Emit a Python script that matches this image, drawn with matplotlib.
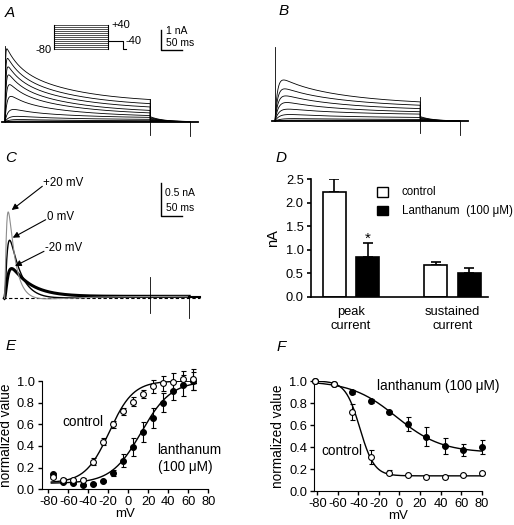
import numpy as np
import matplotlib
matplotlib.use("Agg")
import matplotlib.pyplot as plt
from matplotlib.patches import Rectangle
from matplotlib.ticker import FormatStrFormatter

plt.rcParams['font.family'] = ['Liberation Sans', 'DejaVu Sans']
plt.rcParams['axes.unicode_minus'] = False

W, H = 514, 525

# ---- A: control currents, one entry per voltage step (nA, ms)
a_peak = [3.89, 3.47, 3.08, 2.70, 2.23, 1.61, 0.83, 0.39, 0.17, 0.05]
a_steady = [0.92, 0.73, 0.58, 0.42, 0.32, 0.22, 0.175, 0.10, 0.04, 0.02]
a_rise = [1.0, 1.5, 2.0, 2.5, 3.5, 5.0, 8.0, 12.0, 16.0, 20.0]
a_tail = [0.25, 0.21, 0.17, 0.13, 0.10, 0.07, 0.05, 0.03, 0.015, 0.005]

# ---- B: currents in lanthanum
b_peak = [2.39, 1.90, 1.51, 1.13, 0.72, 0.41, 0.15, 0.055]
b_steady = [0.77, 0.645, 0.505, 0.377, 0.297, 0.148, 0.07, 0.027]
b_rise = [6.0, 7.0, 8.0, 9.0, 10.0, 12.0, 15.0, 20.0]
b_tail = [0.22, 0.18, 0.14, 0.11, 0.08, 0.05, 0.02, 0.01]

# ---- C: lanthanum-sensitive currents
c_labels = ['+20 mV', '0 mV', '-20 mV']
c_amp = [2.77, 1.64, 0.71]
c_rise = [4.0, 5.0, 6.0]
c_decay = [17.0, 28.0, 48.0]
c_under = [0.04, 0.04, 0.0]
c_late = [0.03, 0.03, 0.03]
c_color = ['#8c8c8c', 'black', 'black']
c_lw = [0.8, 1.0, 2.2]

# ---- D: bar chart
d_groups = ['peak\ncurrent', 'sustained\ncurrent']
d_ctrl = [2.22, 0.67]
d_ctrl_err = [0.28, 0.07]
d_lan = [0.85, 0.51]
d_lan_err = [0.29, 0.105]

# ---- E: activation
e_mv = [-75, -65, -55, -45, -35, -25, -15, -5, 5, 15, 25, 35, 45, 55, 65]
e_ctrl = [0.11, 0.09, 0.085, 0.09, 0.255, 0.44, 0.60, 0.72, 0.81, 0.88, 0.95, 0.98, 0.99, 1.02, 1.015]
e_ctrl_err = [0.01, 0.01, 0.01, 0.01, 0.03, 0.03, 0.03, 0.03, 0.04, 0.04, 0.06, 0.07, 0.08, 0.07, 0.1]
e_lan = [0.14, 0.07, 0.055, 0.04, 0.05, 0.075, 0.15, 0.265, 0.39, 0.53, 0.66, 0.80, 0.91, 0.96, 1.0]
e_lan_err = [0.01, 0.01, 0.01, 0.01, 0.01, 0.01, 0.03, 0.06, 0.08, 0.09, 0.09, 0.09, 0.09, 0.1, 0.08]
e_fit_ctrl = [0.06, 1.0, -19, 12]   # bottom, top, V1/2, slope
e_fit_lan = [0.055, 1.0, 13, 15]

# ---- F: inactivation
f_mv = [-82, -64, -46, -28, -10, 8, 26, 44, 62, 80]
f_ctrl = [1.0, 0.97, 0.72, 0.31, 0.17, 0.148, 0.127, 0.127, 0.148, 0.165]
f_ctrl_err = [0.01, 0.01, 0.07, 0.06, 0.02, 0.01, 0.01, 0.01, 0.01, 0.01]
f_lan = [1.0, 0.97, 0.90, 0.82, 0.716, 0.61, 0.495, 0.41, 0.375, 0.40]
f_lan_err = [0.01, 0.01, 0.015, 0.02, 0.015, 0.06, 0.085, 0.075, 0.055, 0.065]
f_fit_ctrl = [0.14, 1.0, -38.5, 7]
f_fit_lan = [0.35, 1.0, -3, 22]

STEP = 350.0
TAIL = 445.0
PX_MS = 0.415

fig = plt.figure(figsize=(W / 100, H / 100), dpi=100)


def px_axes(left, top, right, bottom):
    return fig.add_axes([left / W, 1 - bottom / H, (right - left) / W, (bottom - top) / H])


def trace_axes(box, x0, base, px_na):
    left, top, right, bottom = box
    ax = px_axes(left, top, right, bottom)
    ax.set_xlim((left - x0) / PX_MS, (right - x0) / PX_MS)
    ax.set_ylim((base - bottom) / px_na, (base - top) / px_na)
    ax.axis('off')
    return ax


def step_current(t, peak, steady, rise, frac, tf, ts):
    g = frac * np.exp(-t / tf) + (1 - frac) * np.exp(-t / ts)
    return (1 - np.exp(-t / rise)) * (steady + (peak - steady) * g)


t_on = np.linspace(0, STEP, 800)
t_off = np.linspace(STEP, TAIL, 200)


def draw_family(ax, peaks, steadys, rises, tails, frac, tf, ts, spike, art1):
    for p, s, r, tl in zip(peaks, steadys, rises, tails):
        y_on = step_current(t_on, p, s, r, frac, tf, ts)
        y_off = tl * np.exp(-(t_off - STEP) / 30.0)
        ax.plot(np.r_[t_on, t_off], np.r_[y_on, y_off], color='black', lw=0.6)
    ax.plot([-8, 465], [0, 0], color='black', lw=1.3)
    ax.plot([0, 0], [0, spike], color='black', lw=0.6)
    ax.plot([STEP, STEP], art1, color='black', lw=0.6)
    ax.plot([TAIL, TAIL], [0, -0.7], color='black', lw=0.6)


# A
axA = trace_axes((0, 20, 250, 140), 5, 121.7, 20)
draw_family(axA, a_peak, a_steady, a_rise, a_tail, 0.35, 30, 150, 3.8, [1.15, -0.67])
axA.plot([376, 376, 426], [4.585, 3.585, 3.585], color='black', lw=1.0)

# B
axB = trace_axes((260, 20, 500, 140), 275, 121, 20)
draw_family(axB, b_peak, b_steady, b_rise, b_tail, 0.2, 40, 180, 3.7, [1.2, -0.6])

# C
axC = trace_axes((0, 170, 250, 325), 4.5, 298.3, 66.7)
tc = np.linspace(0, TAIL, 1500)
axC.plot([-3, 472], [0, 0], color='black', lw=0.8, ls=(0, (3, 2)))
for i in [2, 1, 0]:
    tr = (1 - np.exp(-tc / c_rise[i]))
    y = c_amp[i] * tr ** 2 * np.exp(-tc / c_decay[i])
    y += tr * (c_late[i] * (1 - np.exp(-tc / 100)) - c_under[i] * (tc / 60) * np.exp(1 - tc / 60))
    axC.plot(tc, y, color=c_color[i], lw=c_lw[i])
axC.plot([TAIL, 472], [0.02, 0.02], color='black', lw=1.5)
axC.plot([STEP, STEP], [0.32, -0.225], color='black', lw=0.6)
axC.plot([TAIL, TAIL], [0.05, -0.3], color='black', lw=0.6)
axC.plot([377, 377, 427], [1.733, 1.233, 1.233], color='black', lw=1.0)

# D
axD = px_axes(310.7, 179, 488, 296.7)
xc = np.array([0.0, 3.03])
axD.bar(xc, d_ctrl, width=0.69, color='white', edgecolor='black', lw=1.2, zorder=2)
axD.bar(xc + 1, d_lan, width=0.69, color='black', edgecolor='black', lw=1.2, zorder=2)
axD.errorbar(xc, d_ctrl, yerr=[np.zeros(2), d_ctrl_err], fmt='none', ecolor='black',
             elinewidth=1.2, capsize=3.6, capthick=1.2, zorder=1)
axD.errorbar(xc + 1, d_lan, yerr=[np.zeros(2), d_lan_err], fmt='none', ecolor='black',
             elinewidth=1.2, capsize=3.6, capthick=1.2, zorder=1)
axD.text(1, d_lan[0] + d_lan_err[0] + 0.0, '*', ha='center', va='baseline', fontsize=11)
axD.set_xlim(-0.7, 4.59)
axD.set_ylim(0, 2.5)
axD.set_yticks([0, 0.5, 1.0, 1.5, 2.0, 2.5])
axD.yaxis.set_major_formatter(FormatStrFormatter('%.1f'))
axD.set_xticks(xc + 0.5)
axD.set_xticklabels(d_groups, fontsize=9.3, linespacing=1.15)
axD.tick_params(axis='x', length=0, pad=7)
axD.tick_params(axis='y', labelsize=9.3, length=3, width=1.2, pad=2)
axD.set_ylabel('nA', fontsize=10.5, labelpad=4)
for sp in ['top', 'right']:
    axD.spines[sp].set_visible(False)
for sp in ['left', 'bottom']:
    axD.spines[sp].set_linewidth(1.2)


def boltz(v, p, rising=True):
    b, t, vh, k = p
    z = (vh - v) / k if rising else (v - vh) / k
    return b + (t - b) / (1 + np.exp(z))


def curve_axes(ax, xlim, xticks):
    ax.set_xlim(*xlim)
    ax.set_ylim(0, 1.0)
    ax.set_xticks(xticks)
    ax.set_yticks([0, 0.2, 0.4, 0.6, 0.8, 1.0])
    ax.yaxis.set_major_formatter(FormatStrFormatter('%.1f'))
    ax.tick_params(labelsize=9.3, length=3, width=1.0, pad=2)
    ax.set_xlabel('mV', fontsize=9.5, labelpad=0)
    ax.set_ylabel('normalized value', fontsize=9.8, labelpad=3)
    for sp in ['top', 'right']:
        ax.spines[sp].set_visible(False)


mk = dict(fmt='o', ms=4.2, mec='black', mew=0.8, ecolor='black', elinewidth=0.8,
          capsize=1.8, capthick=0.8, clip_on=False)

# E
axE = px_axes(41.7, 381, 208.3, 489.3)
ve = np.linspace(-77, 68, 300)
axE.plot(ve, boltz(ve, e_fit_ctrl), color='black', lw=1.0)
axE.plot(ve, boltz(ve, e_fit_lan), color='black', lw=1.0)
axE.errorbar(e_mv, e_lan, yerr=e_lan_err, mfc='black', zorder=3, **mk)
axE.errorbar(e_mv, e_ctrl, yerr=e_ctrl_err, mfc='white', zorder=4, **mk)
curve_axes(axE, (-86.6, 80), range(-80, 81, 20))

# F
axF = px_axes(314, 381, 481.7, 491.3)
vf = np.linspace(-82, 80, 300)
axF.plot(vf, boltz(vf, f_fit_ctrl, False), color='black', lw=1.0)
axF.plot(vf, boltz(vf, f_fit_lan, False), color='black', lw=1.0)
axF.errorbar(f_mv, f_lan, yerr=f_lan_err, mfc='black', zorder=3, **mk)
axF.errorbar(f_mv, f_ctrl, yerr=f_ctrl_err, mfc='white', zorder=4, **mk)
curve_axes(axF, (-83.2, 80), range(-80, 81, 20))

# overlay in pixel coordinates for annotations
ov = fig.add_axes([0, 0, 1, 1])
ov.set_xlim(0, W)
ov.set_ylim(H, 0)
ov.axis('off')

for lab, x, y in [('A', 10, 13), ('B', 284, 11), ('C', 11, 158),
                  ('D', 281, 158), ('E', 11, 346), ('F', 281, 347)]:
    ov.text(x, y, lab, fontsize=11, style='italic', ha='center', va='center')

# voltage protocol
for y in np.linspace(25, 49.3, 13):
    ov.plot([54.3, 108.3], [y, y], color='#333333', lw=0.6)
ov.plot([54.3, 54.3], [25, 49.3], color='black', lw=0.8)
ov.plot([108.3, 108.3], [25, 49.3], color='black', lw=0.8)
ov.plot([108.3, 123, 123, 126], [41, 41, 49.3, 49.3], color='black', lw=0.8)
ov.text(111.5, 25, '+40', fontsize=8, ha='left', va='center')
ov.text(125.5, 41, '-40', fontsize=8, ha='left', va='center')
ov.text(52, 50, '-80', fontsize=8, ha='right', va='center')
ov.text(165.5, 30.5, '1 nA', fontsize=7.5, ha='left', va='center')
ov.text(165.5, 43.5, '50 ms', fontsize=7.5, ha='left', va='center')

# C labels
ov.text(165, 193.3, '0.5 nA', fontsize=7.5, ha='left', va='center')
ov.text(165.5, 208.3, '50 ms', fontsize=7.5, ha='left', va='center')
for lab, tx, ty, hx, hy in [('+20 mV', 43.3, 183.3, 11.7, 210),
                           ('0 mV', 46.7, 216.7, 12.7, 237.7),
                           ('-20 mV', 45, 248.3, 15, 266)]:
    ov.text(tx, ty, lab, fontsize=8.3, ha='left', va='center')
    ov.annotate('', xy=(hx, hy), xytext=(tx - 1, ty + 3),
                arrowprops=dict(arrowstyle='-|>', color='black', lw=0.8,
                                mutation_scale=9, shrinkA=0, shrinkB=0))

# D legend
ov.add_patch(Rectangle((376.7, 186.7), 11.6, 10, facecolor='white', edgecolor='black', lw=1.0))
ov.add_patch(Rectangle((376.7, 206), 11.6, 9, facecolor='black', edgecolor='black', lw=1.0))
ov.text(401.7, 191.7, 'control', fontsize=8.3, ha='left', va='center')
ov.text(401.7, 211, 'Lanthanum  (100 μM)', fontsize=8.3, ha='left', va='center')

# E, F labels
ov.text(62.7, 421.7, 'control', fontsize=9.8, ha='left', va='center')
ov.text(157, 450, 'lanthanum', fontsize=9.8, ha='left', va='center')
ov.text(158.3, 466.7, '(100 μM)', fontsize=9.8, ha='left', va='center')
ov.text(377, 386, 'lanthanum (100 μM)', fontsize=9.8, ha='left', va='center')
ov.text(321, 451, 'control', fontsize=9.8, ha='left', va='center')

fig.savefig('out.png', dpi=100)
